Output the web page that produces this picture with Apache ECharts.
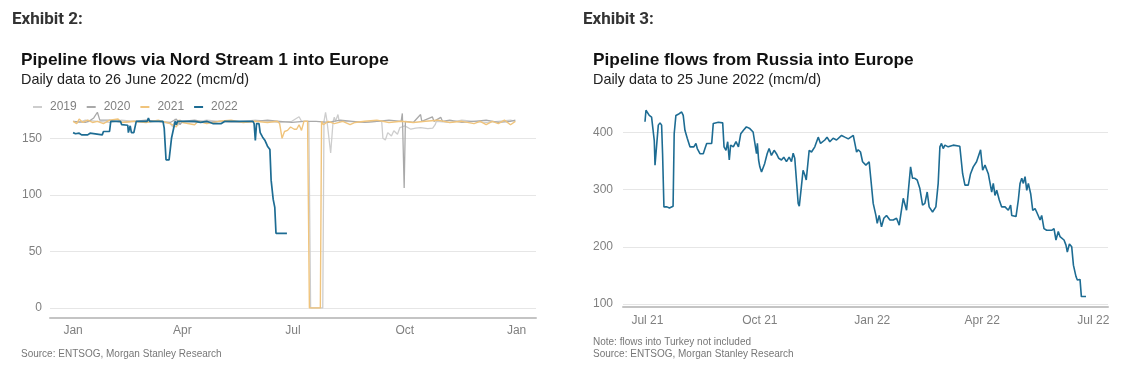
<!DOCTYPE html>
<html><head><meta charset="utf-8">
<script src="https://cdn.jsdelivr.net/npm/echarts@6/dist/echarts.min.js"></script>
<style>html,body{margin:0;padding:0;background:#fff}#c{width:1125px;height:371px}</style>
</head><body><div id="c"></div><script>
// ---------- Exhibit 2: Nord Stream 1, x = day of year (0 = 1 Jan) ----------
const leftTickDays = [0, 90, 181, 273, 365];
const leftTickLabels = ['Jan', 'Apr', 'Jul', 'Oct', 'Jan'];
const leftYTicks = [0, 50, 100, 150];
const yearNames = ['2019', '2020', '2021', '2022'];

const flows2019 = [[0,165],[5,164],[10,166],[20,165],[30,164],[40,166],[50,165],[60,164],[70,165],[80,163],[82,160],[84,167],[86,161],[88,166],[90,165],[100,164],[110,166],[120,165],[130,164],[140,165],[150,166],[160,165],[170,164],[180,165],[186,169],[188,165],[194,165],[195.5,0],[205.5,0],[206.5,165],[207.8,173],[209,165],[212,137],[214,165],[215,168.6],[216,165],[218,171],[219,165],[225,165],[240,164],[250,165],[254,165],[255,150],[257,148.5],[259,155],[262,152],[264,156.6],[267,153.5],[269,159.5],[273,161],[278,158],[282,159],[286,159.5],[292,158.5],[296,159],[298,162],[299,165],[310,164],[320,166],[330,165],[340,164],[350,165],[360,166],[364,165]];
const flows2020 = [[0,165],[10,164],[13,165],[17,168],[20,173],[21,173],[22,166],[23,165],[30,166],[40,164],[50,165],[60,166],[70,165],[80,164],[85,167],[88,162],[90,165],[100,166],[110,164],[120,165],[130,165],[140,164],[150,165],[160,166],[170,165],[180,164],[190,165],[200,165],[210,164],[220,166],[230,165],[240,164],[250,165],[260,166],[270,165],[271,172],[272.5,106],[273.5,165],[280,164],[286,171],[287,165],[295.7,169],[297,165],[302.6,168.5],[304,165],[310,166],[320,164],[330,165],[340,166],[350,164],[360,165],[364,166]];
const flows2021 = [[0,165],[3,163],[5,167],[8,164],[12,166],[16,164],[20,165],[25,163],[30,166],[37,167],[40,164],[50,165],[60,164],[70,166],[80,163],[85,160],[87,166],[90,164],[100,162],[103,165],[110,163],[120,165],[130,166],[140,164],[150,165],[160,164],[168,165],[170,163],[172,150],[174,156],[176.5,157],[179,160],[182,158],[184,158],[186,162],[188,157],[190,165],[193,165],[194.5,0],[203.5,0],[204.5,165],[206,162],[210,165],[215,163],[222,165],[228,162],[232,164],[240,165],[250,166],[260,164],[270,165],[280,164],[290,165],[300,166],[310,164],[320,165],[330,163],[335,165],[340,162],[345,165],[350,163],[355,166],[360,162],[364,165]];
const flows2022 = [[0,155],[2,154],[5,154.5],[7,153],[12,153],[14,154.5],[15,153],[24,153],[25,156],[30,156],[31,165],[39,165],[40,162],[45,161.5],[45.5,155],[47,161],[48,155],[50,155],[52,165],[61,165],[62,168],[63,165],[74,165],[75,159],[76.5,131],[78,130],[79,131],[81,150],[83,160],[84,165],[85,162],[86,165],[100,165],[105,164],[110,165],[115,163],[122,163],[125,165],[148,165],[149,163],[150,148],[151,163],[153,163],[154,155],[156,151],[158,148],[160,143],[162,140],[163,113],[164.7,96],[166,89],[167,66],[176,66]];

// ---------- Exhibit 3: Russia into Europe, x = days from 1 Jul 2021 ----------
const rightTickDays = [0, 92, 184, 274, 365];
const rightTickLabels = ['Jul 21', 'Oct 21', 'Jan 22', 'Apr 22', 'Jul 22'];
const rightYTicks = [100, 200, 300, 400];
const russiaFlows = [[-2,419],[-1.2,439],[0,437],[1.5,430],[3.4,427],[4.8,427],[5.6,386],[6.2,343],[7.5,340],[8.9,413],[10.3,417],[11.6,413],[12.4,363],[13.5,270],[16,270],[18,268],[21,271],[21.9,398],[23.3,430],[26,433],[28,436],[29.3,430],[30.7,404],[32.6,390],[34.8,375],[36,378],[38,375],[39.7,381],[40.8,372],[43,363],[45.7,363],[47.1,372],[48.5,381],[52.6,381],[53.9,416],[58,418],[61.6,417],[62.7,375],[64.3,369],[65.7,384],[67,352],[68.1,378],[70.3,375],[72.5,384],[74.5,375],[76.4,398],[78.6,404],[81,410],[83.8,407],[86.5,401],[87.9,398],[89.3,363],[90,381],[91,352],[92,340],[93.4,331],[94.7,328],[96,346],[98,363],[99.6,372],[101.5,360],[103.7,369],[105.6,363],[107.5,355],[109.7,352],[111.6,357],[113.8,349],[116,357],[117.9,349],[119.3,364],[120.6,355],[123.4,276],[124.3,271],[126,305],[127.4,334],[129,325],[130,317],[132.4,369],[134.3,366],[137,375],[139.8,392],[141.7,381],[145.2,387],[147,392],[149.3,384],[152,390],[154.8,387],[158.9,395],[161.6,392],[164.4,389],[168.5,395],[169.8,381],[171.2,366],[172.5,370],[174.4,366],[176.1,349],[178.8,343],[181.5,349],[182.6,346],[184.8,276],[187,255],[188.1,241],[189.7,255],[191.6,235],[193.5,250],[195.7,255],[198.5,247],[201.2,247],[203.9,250],[206.1,238],[207.5,258],[209.4,285],[212.1,264],[213.5,261],[215.4,340],[217,320],[218.9,320],[220.8,317],[223,302],[225.2,273],[227.1,276],[229,296],[230.6,270],[233.4,261],[236.1,270],[238,311],[239.4,375],[240.7,381],[242.1,372],[243.5,378],[246.2,375],[250.3,378],[255.7,376],[256.6,375],[258,328],[259.9,308],[262.6,308],[264.5,328],[266.7,340],[268.1,337],[269.4,349],[270.8,346],[272.7,370],[274.4,334],[276.3,343],[279,328],[281.8,296],[283.1,311],[284.5,290],[285.9,299],[288,282],[289.9,270],[292.7,270],[295.4,264],[297.3,273],[298.2,255],[299.5,253],[301.7,253],[303.6,282],[305,311],[306.4,320],[307.7,311],[309.1,323],[310.5,299],[311.8,311],[313.7,293],[315.4,264],[317.3,267],[318.6,261],[321.4,247],[322.7,255],[324.6,232],[326.8,229],[330.9,229],[332.8,232],[334.4,212],[336.3,227],[337.7,218],[339,220],[341,212],[342.6,203],[343.7,191],[345.4,205],[347.3,200],[348.7,168],[350.8,148],[351.9,142],[354.1,143],[355.2,113],[356.3,110],[359,113]];

const yearColors = ['#cdcdcd', '#a9a9a9', '#f0c47c', '#1d6c93'];
const GRID = '#e6e6e6', AXIS = '#c4c4c4', LBL = '#808080';

function tickFmt(days, labels) {
  return function (v) {
    const r = Math.round(v);
    if (Math.abs(v - r) > 1e-6) return '';
    const i = days.indexOf(r);
    return i >= 0 ? labels[i] : '';
  };
}
function yFmt(ticks) {
  return function (v) { return ticks.indexOf(v) >= 0 ? String(v) : ''; };
}

const chart = echarts.init(document.getElementById('c'), null, { renderer: 'canvas' });
const sans = 'Liberation Sans, Arial, sans-serif';
const t = (text, left, top, style) => ({ text, left, top, padding: 0, textStyle: Object.assign({ fontFamily: sans, color: '#111', fontWeight: 'normal' }, style) });

chart.setOption({
  animation: false,
  backgroundColor: '#fff',
  title: [
    t('Exhibit 2:', 12, 11, { fontFamily: 'Roboto', fontWeight: 'bold', fontSize: 17, color: '#333' }),
    t('Pipeline flows via Nord Stream 1 into Europe', 21, 52, { fontWeight: 'bold', fontSize: 17.3 }),
    t('Daily data to 26 June 2022 (mcm/d)', 21, 73, { fontSize: 14.4, color: '#222' }),
    t('Source: ENTSOG, Morgan Stanley Research', 21, 349, { fontSize: 10, color: '#777' }),
    t('Exhibit 3:', 583, 11, { fontFamily: 'Roboto', fontWeight: 'bold', fontSize: 17, color: '#333' }),
    t('Pipeline flows from Russia into Europe', 593, 52, { fontWeight: 'bold', fontSize: 17.3 }),
    t('Daily data to 25 June 2022 (mcm/d)', 593, 73, { fontSize: 14.4, color: '#222' }),
    t('Note: flows into Turkey not included', 593, 337, { fontSize: 10, color: '#777' }),
    t('Source: ENTSOG, Morgan Stanley Research', 593, 349, { fontSize: 10, color: '#777' })
  ],
  legend: {
    data: yearNames, left: 28, top: 96, icon: 'rect', itemWidth: 9, itemHeight: 2, itemGap: 10,
    textStyle: { color: LBL, fontSize: 12, fontFamily: sans, padding: [0, 0, 0, 3] }
  },
  grid: [
    { left: 50, top: 110, width: 486, height: 198 },
    { left: 623, top: 104, width: 485, height: 200 }
  ],
  xAxis: [
    { gridIndex: 0, type: 'value', min: -19, max: 381, interval: 1, offset: 10,
      axisLine: { show: true, onZero: false, lineStyle: { color: AXIS, width: 2 } },
      axisTick: { show: false }, splitLine: { show: false },
      axisLabel: { formatter: tickFmt(leftTickDays, leftTickLabels), color: LBL, fontSize: 12, fontFamily: sans, margin: 7 } },
    { gridIndex: 1, type: 'value', min: -20, max: 377, interval: 1, offset: 3,
      axisLine: { show: true, onZero: false, lineStyle: { color: AXIS, width: 2 } },
      axisTick: { show: false }, splitLine: { show: false },
      axisLabel: { formatter: tickFmt(rightTickDays, rightTickLabels), color: LBL, fontSize: 12, fontFamily: sans, margin: 8 } }
  ],
  yAxis: [
    { gridIndex: 0, type: 'value', min: 0, max: 175, interval: 50,
      axisLine: { show: false }, axisTick: { show: false },
      splitLine: { show: true, lineStyle: { color: [GRID, GRID, GRID, GRID, 'rgba(0,0,0,0)'] } },
      axisLabel: { formatter: yFmt(leftYTicks), color: LBL, fontSize: 12, fontFamily: sans, margin: 8 } },
    { gridIndex: 1, type: 'value', min: 100, max: 450, interval: 100,
      axisLine: { show: false }, axisTick: { show: false },
      splitLine: { show: true, lineStyle: { color: [GRID, GRID, GRID, GRID, 'rgba(0,0,0,0)'] } },
      axisLabel: { formatter: yFmt(rightYTicks), color: LBL, fontSize: 12, fontFamily: sans, margin: 10 } }
  ],
  series: [
    { name: yearNames[0], data: flows2019, color: yearColors[0], lineWidth: 1.3 },
    { name: yearNames[1], data: flows2020, color: yearColors[1], lineWidth: 1.3 },
    { name: yearNames[2], data: flows2021, color: yearColors[2], lineWidth: 1.4 },
    { name: yearNames[3], data: flows2022, color: yearColors[3], lineWidth: 1.7 }
  ].map(s => ({
    type: 'line', name: s.name, data: s.data, color: s.color, xAxisIndex: 0, yAxisIndex: 0,
    symbol: 'none', showSymbol: false, lineStyle: { width: s.lineWidth, color: s.color }
  })).concat([
    { type: 'line', name: 'Russia', data: russiaFlows, xAxisIndex: 1, yAxisIndex: 1,
      symbol: 'none', showSymbol: false, color: '#1d6c93', lineStyle: { width: 1.6, color: '#1d6c93' } }
  ])
});
</script></body></html>
